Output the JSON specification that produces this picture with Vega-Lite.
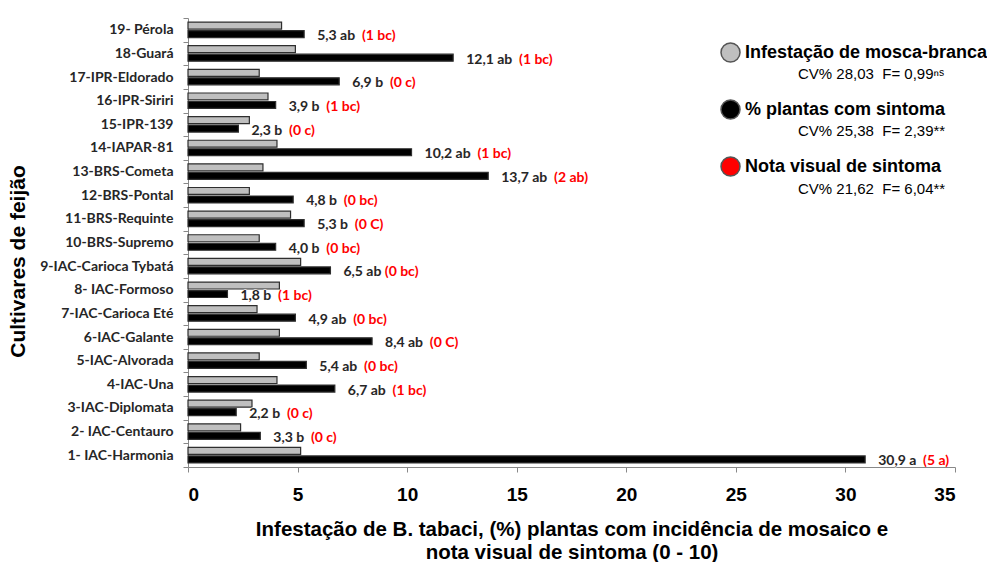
{
  "$schema": "https://vega.github.io/schema/vega-lite/v6.json",
  "width": 767,
  "height": 449,
  "autosize": {"type": "none"},
  "padding": {"left": 188, "top": 18, "right": 32, "bottom": 95},
  "background": "white",
  "config": {"view": {"stroke": null}, "font": "Liberation Sans"},
  "datasets": {
    "barras": [
      {"cultivar": "19- Pérola", "serie": "Infestação de mosca-branca", "valor": 4.27},
      {"cultivar": "19- Pérola", "serie": "% plantas com sintoma", "valor": 5.3},
      {"cultivar": "18-Guará", "serie": "Infestação de mosca-branca", "valor": 4.9},
      {"cultivar": "18-Guará", "serie": "% plantas com sintoma", "valor": 12.1},
      {"cultivar": "17-IPR-Eldorado", "serie": "Infestação de mosca-branca", "valor": 3.25},
      {"cultivar": "17-IPR-Eldorado", "serie": "% plantas com sintoma", "valor": 6.9},
      {"cultivar": "16-IPR-Siriri", "serie": "Infestação de mosca-branca", "valor": 3.65},
      {"cultivar": "16-IPR-Siriri", "serie": "% plantas com sintoma", "valor": 4.0},
      {"cultivar": "15-IPR-139", "serie": "Infestação de mosca-branca", "valor": 2.8},
      {"cultivar": "15-IPR-139", "serie": "% plantas com sintoma", "valor": 2.3},
      {"cultivar": "14-IAPAR-81", "serie": "Infestação de mosca-branca", "valor": 4.06},
      {"cultivar": "14-IAPAR-81", "serie": "% plantas com sintoma", "valor": 10.2},
      {"cultivar": "13-BRS-Cometa", "serie": "Infestação de mosca-branca", "valor": 3.42},
      {"cultivar": "13-BRS-Cometa", "serie": "% plantas com sintoma", "valor": 13.7},
      {"cultivar": "12-BRS-Pontal", "serie": "Infestação de mosca-branca", "valor": 2.8},
      {"cultivar": "12-BRS-Pontal", "serie": "% plantas com sintoma", "valor": 4.8},
      {"cultivar": "11-BRS-Requinte", "serie": "Infestação de mosca-branca", "valor": 4.68},
      {"cultivar": "11-BRS-Requinte", "serie": "% plantas com sintoma", "valor": 5.3},
      {"cultivar": "10-BRS-Supremo", "serie": "Infestação de mosca-branca", "valor": 3.25},
      {"cultivar": "10-BRS-Supremo", "serie": "% plantas com sintoma", "valor": 4.0},
      {"cultivar": "9-IAC-Carioca Tybatá", "serie": "Infestação de mosca-branca", "valor": 5.14},
      {"cultivar": "9-IAC-Carioca Tybatá", "serie": "% plantas com sintoma", "valor": 6.5},
      {"cultivar": "8- IAC-Formoso", "serie": "Infestação de mosca-branca", "valor": 4.17},
      {"cultivar": "8- IAC-Formoso", "serie": "% plantas com sintoma", "valor": 1.8},
      {"cultivar": "7-IAC-Carioca Eté", "serie": "Infestação de mosca-branca", "valor": 3.15},
      {"cultivar": "7-IAC-Carioca Eté", "serie": "% plantas com sintoma", "valor": 4.9},
      {"cultivar": "6-IAC-Galante", "serie": "Infestação de mosca-branca", "valor": 4.17},
      {"cultivar": "6-IAC-Galante", "serie": "% plantas com sintoma", "valor": 8.4},
      {"cultivar": "5-IAC-Alvorada", "serie": "Infestação de mosca-branca", "valor": 3.25},
      {"cultivar": "5-IAC-Alvorada", "serie": "% plantas com sintoma", "valor": 5.4},
      {"cultivar": "4-IAC-Una", "serie": "Infestação de mosca-branca", "valor": 4.06},
      {"cultivar": "4-IAC-Una", "serie": "% plantas com sintoma", "valor": 6.7},
      {"cultivar": "3-IAC-Diplomata", "serie": "Infestação de mosca-branca", "valor": 2.92},
      {"cultivar": "3-IAC-Diplomata", "serie": "% plantas com sintoma", "valor": 2.2},
      {"cultivar": "2- IAC-Centauro", "serie": "Infestação de mosca-branca", "valor": 2.4},
      {"cultivar": "2- IAC-Centauro", "serie": "% plantas com sintoma", "valor": 3.3},
      {"cultivar": "1- IAC-Harmonia", "serie": "Infestação de mosca-branca", "valor": 5.14},
      {"cultivar": "1- IAC-Harmonia", "serie": "% plantas com sintoma", "valor": 30.9}
    ],
    "rotulos": [
      {"cultivar": "19- Pérola", "serie": "% plantas com sintoma", "valor": 5.3, "rotulo": "5,3 ab", "completo": "5,3 ab\u00a0\u00a0(1 bc)"},
      {"cultivar": "18-Guará", "serie": "% plantas com sintoma", "valor": 12.1, "rotulo": "12,1 ab", "completo": "12,1 ab\u00a0\u00a0(1 bc)"},
      {"cultivar": "17-IPR-Eldorado", "serie": "% plantas com sintoma", "valor": 6.9, "rotulo": "6,9 b", "completo": "6,9 b\u00a0\u00a0(0 c)"},
      {"cultivar": "16-IPR-Siriri", "serie": "% plantas com sintoma", "valor": 4.0, "rotulo": "3,9 b", "completo": "3,9 b\u00a0\u00a0(1 bc)"},
      {"cultivar": "15-IPR-139", "serie": "% plantas com sintoma", "valor": 2.3, "rotulo": "2,3 b", "completo": "2,3 b\u00a0\u00a0(0 c)"},
      {"cultivar": "14-IAPAR-81", "serie": "% plantas com sintoma", "valor": 10.2, "rotulo": "10,2 ab", "completo": "10,2 ab\u00a0\u00a0(1 bc)"},
      {"cultivar": "13-BRS-Cometa", "serie": "% plantas com sintoma", "valor": 13.7, "rotulo": "13,7 ab", "completo": "13,7 ab\u00a0\u00a0(2 ab)"},
      {"cultivar": "12-BRS-Pontal", "serie": "% plantas com sintoma", "valor": 4.8, "rotulo": "4,8 b", "completo": "4,8 b\u00a0\u00a0(0 bc)"},
      {"cultivar": "11-BRS-Requinte", "serie": "% plantas com sintoma", "valor": 5.3, "rotulo": "5,3 b", "completo": "5,3 b\u00a0\u00a0(0 C)"},
      {"cultivar": "10-BRS-Supremo", "serie": "% plantas com sintoma", "valor": 4.0, "rotulo": "4,0 b", "completo": "4,0 b\u00a0\u00a0(0 bc)"},
      {"cultivar": "9-IAC-Carioca Tybatá", "serie": "% plantas com sintoma", "valor": 6.5, "rotulo": "6,5 ab", "completo": "6,5 ab\u00a0(0 bc)"},
      {"cultivar": "8- IAC-Formoso", "serie": "% plantas com sintoma", "valor": 1.8, "rotulo": "1,8 b", "completo": "1,8 b\u00a0\u00a0(1 bc)"},
      {"cultivar": "7-IAC-Carioca Eté", "serie": "% plantas com sintoma", "valor": 4.9, "rotulo": "4,9 ab", "completo": "4,9 ab\u00a0\u00a0(0 bc)"},
      {"cultivar": "6-IAC-Galante", "serie": "% plantas com sintoma", "valor": 8.4, "rotulo": "8,4 ab", "completo": "8,4 ab\u00a0\u00a0(0 C)"},
      {"cultivar": "5-IAC-Alvorada", "serie": "% plantas com sintoma", "valor": 5.4, "rotulo": "5,4 ab", "completo": "5,4 ab\u00a0\u00a0(0 bc)"},
      {"cultivar": "4-IAC-Una", "serie": "% plantas com sintoma", "valor": 6.7, "rotulo": "6,7 ab", "completo": "6,7 ab\u00a0\u00a0(1 bc)"},
      {"cultivar": "3-IAC-Diplomata", "serie": "% plantas com sintoma", "valor": 2.2, "rotulo": "2,2 b", "completo": "2,2 b\u00a0\u00a0(0 c)"},
      {"cultivar": "2- IAC-Centauro", "serie": "% plantas com sintoma", "valor": 3.3, "rotulo": "3,3 b", "completo": "3,3 b\u00a0\u00a0(0 c)"},
      {"cultivar": "1- IAC-Harmonia", "serie": "% plantas com sintoma", "valor": 30.9, "rotulo": "30,9 a", "completo": "30,9 a\u00a0\u00a0(5 a)"}
    ]
  },
  "layer": [
    {
      "data": {"name": "barras"},
      "mark": {"type": "bar", "stroke": "#2e2e2e", "strokeWidth": 1.2},
      "encoding": {
        "y": {
          "field": "cultivar", "type": "nominal", "sort": null,
          "scale": {"paddingInner": 0, "paddingOuter": 0},
          "axis": {
            "title": "Cultivares de feijão",
            "titleFont": "Liberation Sans", "titleFontSize": 21, "titleFontWeight": "bold", "titleColor": "#000",
            "titlePadding": 11, "titleY": 243,
            "labelFont": "Lato", "labelFontSize": 14, "labelFontWeight": "bold", "labelColor": "#262626",
            "labelPadding": 10, "labelLimit": 300,
            "tickSize": 5, "tickColor": "#888", "domainColor": "#888", "tickBand": "extent", "grid": false
          }
        },
        "x": {
          "field": "valor", "type": "quantitative",
          "scale": {"domain": [0, 35], "nice": false},
          "axis": {
            "title": ["Infestação de B. tabaci, (%) plantas com incidência de mosaico e", "nota visual de sintoma (0 - 10)"],
            "titleFont": "Liberation Sans", "titleFontSize": 20.5, "titleFontWeight": "bold", "titleColor": "#000",
            "titlePadding": 15, "titleLineHeight": 23,
            "values": [0, 5, 10, 15, 20, 25, 30, 35],
            "labelFont": "Liberation Sans", "labelFontSize": 19, "labelFontWeight": "bold", "labelColor": "#000",
            "labelPadding": 13,
            "tickSize": 5, "tickColor": "#888", "domainColor": "#888", "grid": false
          }
        },
        "yOffset": {
          "field": "serie", "type": "nominal",
          "scale": {"domain": ["Infestação de mosca-branca", "% plantas com sintoma"], "paddingInner": 0.18, "paddingOuter": 0.48}
        },
        "color": {
          "field": "serie", "type": "nominal",
          "scale": {"domain": ["Infestação de mosca-branca", "% plantas com sintoma", "Nota visual de sintoma"], "range": ["#bfbfbf", "#000000", "#ff0000"]},
          "legend": {
            "orient": "none", "legendX": 532, "legendY": 24, "title": null,
            "symbolType": "circle", "symbolSize": 361,
            "symbolStrokeColor": "#555555", "symbolStrokeWidth": 1.5,
            "labelFont": "Liberation Sans", "labelFontSize": 18, "labelFontWeight": "bold", "labelColor": "#000",
            "labelOffset": 4, "rowPadding": 32, "labelLimit": 400
          }
        }
      }
    },
    {
      "data": {"name": "rotulos"},
      "mark": {"type": "text", "align": "left", "baseline": "middle", "dx": 13, "dy": 2, "font": "Lato", "fontSize": 14, "fontWeight": "bold"},
      "encoding": {
        "y": {"field": "cultivar", "type": "nominal", "sort": null},
        "x": {"field": "valor", "type": "quantitative"},
        "yOffset": {"field": "serie", "type": "nominal"},
        "text": {"field": "completo"},
        "color": {"datum": "Nota visual de sintoma", "type": "nominal"}
      }
    },
    {
      "data": {"name": "rotulos"},
      "mark": {"type": "text", "align": "left", "baseline": "middle", "dx": 13, "dy": 2, "font": "Lato", "fontSize": 14, "fontWeight": "bold", "fill": "white", "stroke": "white", "strokeWidth": 1.2},
      "encoding": {
        "y": {"field": "cultivar", "type": "nominal", "sort": null},
        "x": {"field": "valor", "type": "quantitative"},
        "yOffset": {"field": "serie", "type": "nominal"},
        "text": {"field": "rotulo"}
      }
    },
    {
      "data": {"name": "rotulos"},
      "mark": {"type": "text", "align": "left", "baseline": "middle", "dx": 13, "dy": 2, "font": "Lato", "fontSize": 14, "fontWeight": "bold", "fill": "#262626"},
      "encoding": {
        "y": {"field": "cultivar", "type": "nominal", "sort": null},
        "x": {"field": "valor", "type": "quantitative"},
        "yOffset": {"field": "serie", "type": "nominal"},
        "text": {"field": "rotulo"}
      }
    },
    {
      "data": {"name": "rotulos"},
      "mark": {"type": "point", "opacity": 0},
      "encoding": {
        "y": {"field": "cultivar", "type": "nominal", "sort": null},
        "x": {"field": "valor", "type": "quantitative"},
        "shape": {
          "datum": "CV% 28,03\u00a0\u00a0F= 0,99ⁿˢ", "type": "nominal",
          "scale": {"domain": ["CV% 28,03\u00a0\u00a0F= 0,99ⁿˢ", "CV% 25,38\u00a0\u00a0F= 2,39**", "CV% 21,62\u00a0\u00a0F= 6,04**"]},
          "legend": {
            "orient": "none", "legendX": 595, "legendY": 48, "title": null,
            "symbolSize": 1, "symbolOpacity": 0, "symbolStrokeWidth": 0, "labelOffset": 0,
            "labelFont": "Liberation Sans", "labelFontSize": 15, "labelFontWeight": "normal", "labelColor": "#000",
            "rowPadding": 41.5, "labelLimit": 400
          }
        }
      }
    }
  ]
}
